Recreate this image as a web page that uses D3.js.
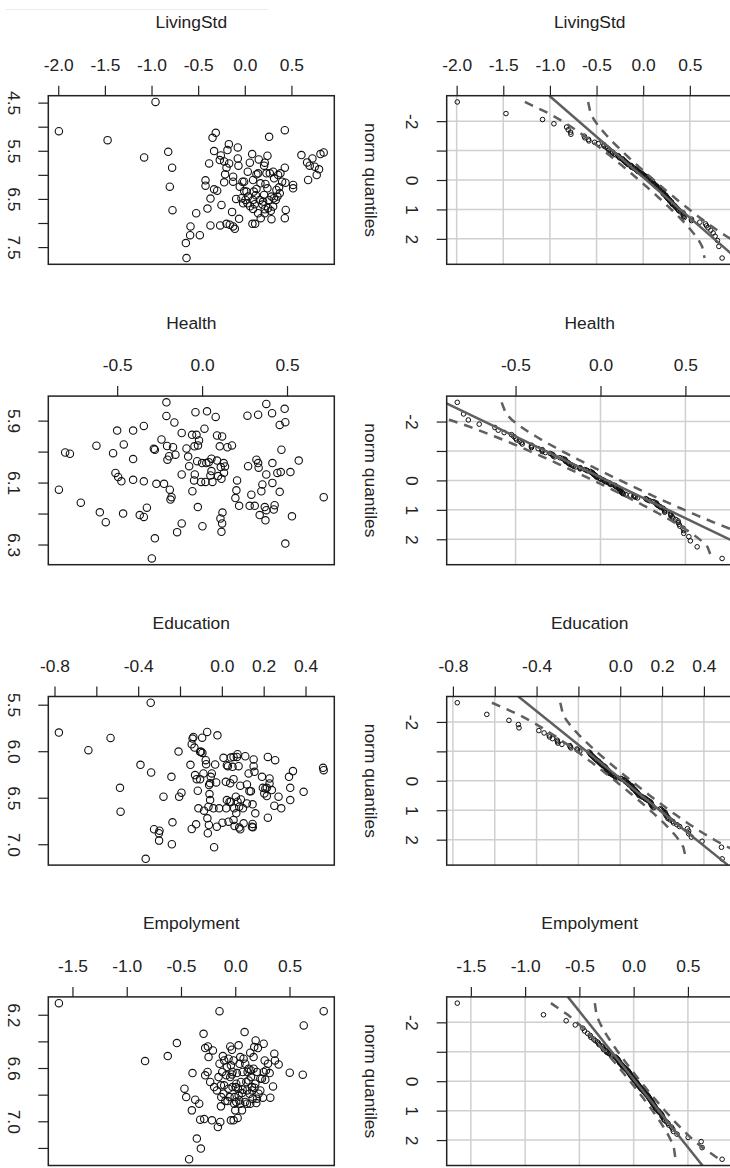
<!DOCTYPE html>
<html>
<head>
<meta charset="utf-8">
<script src="https://cdn.jsdelivr.net/npm/d3@7"></script>
<style>
  body { margin: 0; background: #fff; }
  svg text { font-family: "Liberation Sans", Arial, Helvetica, sans-serif; }
</style>
</head>
<body>
<script>
// variable names (titles), as written in the original
const variables = ["LivingStd", "Health", "Education", "Empolyment"];

// LivingStd : x = residual, y = score
const livingX = [
  -1.993,-0.957,-1.471,-1.079,-0.821,-0.779,-0.804,-0.775,-0.625,-0.632,
  -0.586,-0.582,-0.482,-0.521,-0.400,-0.368,-0.368,-0.421,-0.421,-0.382,
  -0.346,-0.311,-0.329,-0.329,-0.296,-0.257,-0.268,-0.221,-0.221,-0.250,
  -0.264,-0.196,-0.171,-0.186,-0.196,-0.168,-0.211,-0.125,-0.136,-0.161,
  -0.125,-0.107,-0.075,-0.075,-0.068,-0.061,-0.093,-0.025,-0.007,-0.007,
  -0.036,0.007,0.029,-0.018,0.054,0.079,0.032,0.089,0.096,0.118,
  0.107,0.089,0.082,0.111,0.150,0.143,0.168,0.161,0.171,0.207,
  0.214,0.221,0.207,0.196,0.214,0.214,0.243,0.261,0.268,0.243,
  0.257,0.250,0.286,0.304,0.314,0.286,0.304,0.339,0.350,0.382,
  0.368,0.375,0.429,0.429,0.436,0.439,0.429,0.400,0.518,0.518,
  0.607,0.668,0.679,0.696,0.725,0.750,0.771,0.796,0.811,0.846,
  0.125,0.036,0.279,0.311,0.189,0.057,0.125,-0.054,0.018,0.232,
  0.332,0.143,-0.125,0.357,0.089
];
const livingY = [
  5.093,4.486,5.279,5.638,5.521,5.852,6.245,6.734,7.728,7.417,
  7.252,7.072,7.252,6.797,6.700,6.493,7.050,6.114,6.224,5.762,
  5.231,5.128,5.507,6.300,6.328,5.597,5.693,5.721,6.155,6.624,
  7.050,7.017,5.362,5.486,5.852,5.762,5.990,6.038,6.769,7.036,
  7.072,7.120,5.431,5.659,5.810,6.914,6.500,6.141,6.141,6.334,
  6.486,6.521,6.590,6.590,5.748,5.569,5.934,6.107,6.348,6.424,
  6.610,6.707,7.017,7.017,5.679,5.969,6.176,6.521,6.900,5.810,
  5.748,6.190,6.417,6.555,6.714,6.797,5.603,5.210,5.969,6.279,
  6.521,6.693,6.921,5.934,6.072,6.452,6.659,6.314,6.452,5.969,
  6.259,6.383,5.072,5.852,6.162,6.728,6.900,6.141,6.210,6.279,
  5.590,5.741,6.107,5.810,5.659,5.831,6.003,5.886,5.569,5.534,
  6.293,6.452,6.748,6.486,6.617,6.652,5.990,6.245,6.348,5.969,
  6.521,6.797,6.141,6.003,6.521
];

const healthX = [
  -0.843,-0.806,-0.778,-0.714,-0.622,-0.602,-0.567,-0.524,-0.510,-0.500,
  -0.494,-0.475,-0.465,-0.461,-0.406,-0.406,-0.406,-0.367,-0.343,-0.343,
  -0.343,-0.325,-0.296,-0.278,-0.284,-0.278,-0.269,-0.239,-0.224,-0.210,
  -0.210,-0.206,-0.204,-0.194,-0.190,-0.186,-0.180,-0.171,-0.163,-0.157,
  -0.147,-0.120,-0.120,-0.120,-0.092,-0.082,-0.076,-0.059,-0.057,-0.045,
  -0.043,-0.047,-0.039,-0.033,-0.025,-0.024,-0.018,-0.029,-0.006,0.002,
  0.000,0.014,0.020,0.025,0.029,0.039,0.055,0.061,0.055,0.049,
  0.080,0.088,0.088,0.094,0.104,0.110,0.114,0.118,0.118,0.114,
  0.120,0.127,0.135,0.129,0.108,0.149,0.176,0.196,0.202,0.206,
  0.218,0.267,0.271,0.280,0.290,0.310,0.320,0.330,0.330,0.333,
  0.339,0.349,0.355,0.369,0.373,0.378,0.378,0.378,0.412,0.414,
  0.414,0.422,0.427,0.443,0.457,0.467,0.463,0.457,0.486,0.490,
  0.490,0.520,0.529,0.569,0.716
];
const healthY = [
  6.123,6.003,6.007,6.165,5.981,6.196,6.228,6.005,6.069,5.932,
  6.082,6.096,6.200,5.977,5.932,6.024,6.091,6.205,6.211,5.917,
  6.096,6.181,6.345,6.280,5.991,5.994,6.104,5.961,6.104,5.841,
  5.885,5.982,6.026,6.015,6.123,6.155,6.147,5.986,5.906,6.010,
  6.260,6.232,6.074,5.940,5.990,6.016,6.047,5.946,6.128,5.983,
  6.074,6.093,5.873,5.946,6.179,5.980,5.964,6.031,6.098,6.241,
  6.037,5.926,6.098,6.037,5.870,6.034,6.023,6.098,6.063,6.077,
  5.888,5.948,6.029,6.079,5.983,6.050,6.088,5.951,6.232,6.259,
  6.197,6.037,6.048,6.068,6.216,5.986,5.980,6.150,6.125,6.093,
  6.175,5.884,6.047,6.175,6.139,6.175,6.026,5.881,6.037,6.052,
  6.205,6.128,6.106,6.179,6.222,5.846,6.189,6.074,5.876,6.037,
  6.101,6.187,6.173,6.069,6.130,5.994,6.066,5.914,5.862,5.905,
  6.297,6.066,6.209,6.029,6.147
];

const educationX = [
  -0.779,-0.638,-0.532,-0.487,-0.484,-0.389,-0.364,-0.340,-0.338,-0.324,
  -0.301,-0.298,-0.300,-0.279,-0.241,-0.236,-0.239,-0.207,-0.204,-0.193,
  -0.150,-0.144,-0.144,-0.140,-0.131,-0.128,-0.123,-0.120,-0.115,-0.112,
  -0.104,-0.099,-0.094,-0.093,-0.085,-0.077,-0.075,-0.070,-0.069,-0.067,
  -0.062,-0.061,-0.059,-0.056,-0.056,-0.053,-0.048,-0.040,-0.037,-0.032,
  -0.027,-0.021,-0.013,0.003,0.008,0.019,0.021,0.024,0.029,0.032,
  0.037,0.040,0.043,0.043,0.051,0.056,0.059,0.061,0.067,0.069,
  0.072,0.075,0.075,0.080,0.083,0.088,0.083,0.091,0.101,0.104,
  0.112,0.120,0.128,0.132,0.139,0.147,0.147,0.148,0.152,0.152,
  0.156,0.160,0.192,0.196,0.203,0.208,0.215,0.220,0.220,0.228,
  0.228,0.239,0.251,0.255,0.271,0.284,0.321,0.327,0.327,0.340,
  0.391,0.484,0.487,-0.136,-0.104,-0.024,0.056,0.088,0.144,0.024,
  -0.088,0.120,0.215,0.056,-0.064
];
const educationY = [
  5.800,5.989,5.857,6.393,6.650,6.146,7.157,5.479,6.229,6.839,
  6.882,6.854,6.961,6.489,6.275,6.764,7.000,6.004,6.489,6.446,
  6.146,5.925,6.836,5.864,5.961,6.257,6.786,6.300,6.425,6.614,
  6.300,6.007,5.854,6.018,6.639,6.096,6.139,5.793,6.721,6.882,
  6.793,6.364,6.461,6.525,6.343,6.275,6.239,6.614,7.032,6.143,
  6.336,5.829,6.614,6.768,6.071,6.329,6.614,6.150,6.161,6.757,
  6.543,6.343,6.543,6.068,6.168,6.300,6.614,6.804,6.489,6.668,
  6.061,6.032,6.543,6.161,6.821,6.839,6.596,6.518,6.614,6.775,
  6.054,6.357,6.239,6.429,6.429,6.571,6.782,6.818,6.089,6.161,
  6.221,6.668,6.275,6.393,6.454,6.400,6.393,6.714,6.061,6.293,
  6.346,6.418,6.586,6.096,6.489,6.614,6.275,6.393,6.525,6.214,
  6.436,6.179,6.204,5.846,6.007,6.811,6.739,6.371,6.811,6.525,
  6.239,6.561,6.482,6.061,6.596
];

const employX = [
  -1.625,-0.831,-0.622,-0.538,-0.468,-0.452,-0.425,-0.394,-0.400,-0.369,
  -0.354,-0.332,-0.323,-0.317,-0.292,-0.286,-0.277,-0.255,-0.252,-0.246,
  -0.231,-0.215,-0.206,-0.194,-0.160,-0.145,-0.145,-0.138,-0.132,-0.132,
  -0.120,-0.114,-0.108,-0.102,-0.092,-0.083,-0.077,-0.071,-0.052,-0.046,
  -0.040,-0.031,-0.031,-0.025,-0.015,-0.015,-0.006,0.006,0.009,0.015,
  0.022,0.031,0.025,0.040,0.046,0.052,0.062,0.068,0.086,0.092,
  0.102,0.108,0.114,0.123,0.132,0.138,0.145,0.154,0.160,0.169,
  0.175,0.185,0.188,0.194,0.200,0.209,0.215,0.231,0.246,0.255,
  0.262,0.271,0.277,0.283,0.302,0.317,0.323,0.348,0.360,0.366,
  0.400,0.502,0.622,0.631,0.815,
  0.123,0.068,-0.046,-0.062,0.000,0.037,0.169,0.231,-0.169,-0.102,
  -0.025,0.031,0.077,0.145,0.200,0.108,-0.040,0.009,0.157,-0.129,
  0.062,0.138,-0.062,0.262,-0.277,-0.009,0.178,0.092,-0.154,0.046
];
const employY = [
  6.113,6.548,6.510,6.413,6.755,6.818,7.285,6.638,6.918,6.838,
  7.130,6.868,6.988,7.205,6.343,6.983,6.655,6.630,6.438,6.518,
  6.705,6.993,6.468,6.743,7.043,6.173,6.568,7.005,6.888,6.730,
  6.630,6.510,6.793,6.543,6.848,6.655,6.593,6.848,6.818,6.438,
  6.993,6.463,6.648,6.743,6.993,6.543,6.818,6.743,6.855,6.638,
  6.975,6.430,6.755,6.568,6.868,6.705,6.788,6.630,6.330,6.568,
  6.705,6.868,6.630,6.605,6.793,6.485,6.668,6.743,6.830,6.605,
  6.443,6.718,6.393,6.863,6.630,6.450,6.793,6.768,6.680,6.823,
  6.418,6.543,6.688,6.618,6.568,6.638,6.823,6.738,6.493,6.543,
  6.573,6.635,6.650,6.280,6.173,
  6.693,6.763,6.668,6.755,6.918,6.843,6.518,6.680,6.768,6.730,
  6.630,6.805,6.530,6.618,6.830,6.768,6.580,6.718,6.768,6.818,
  6.918,6.868,6.530,6.630,6.450,6.868,6.748,6.855,6.668,6.518
];

// tick values and labels ("" = tick without label, as R drops them)
const livingXTicks = [-2, -1.5, -1, -0.5, 0, 0.5];
const livingXLabels = ["-2.0", "-1.5", "-1.0", "-0.5", "0.0", "0.5"];
const livingYTicks = [4.5, 5, 5.5, 6, 6.5, 7, 7.5];
const livingYLabels = ["4.5", "", "5.5", "", "6.5", "", "7.5"];
const healthXTicks = [-0.5, 0, 0.5];
const healthXLabels = ["-0.5", "0.0", "0.5"];
const healthYTicks = [5.9, 6.0, 6.1, 6.2, 6.3];
const healthYLabels = ["5.9", "", "6.1", "", "6.3"];
const educationXTicks = [-0.8, -0.6, -0.4, -0.2, 0, 0.2, 0.4];
const educationXLabels = ["-0.8", "", "-0.4", "", "0.0", "0.2", "0.4"];
const educationYTicks = [5.5, 6.0, 6.5, 7.0];
const educationYLabels = ["5.5", "6.0", "6.5", "7.0"];
const employXTicks = [-1.5, -1, -0.5, 0, 0.5];
const employXLabels = ["-1.5", "-1.0", "-0.5", "0.0", "0.5"];
const employYTicks = [6.2, 6.4, 6.6, 6.8, 7.0, 7.2];
const employYLabels = ["6.2", "", "6.6", "", "7.0", ""];
const qqTicks = [-2, -1, 0, 1, 2];
const qqLabels = ["-2", "", "0", "1", "2"];
const qqAxisTitle = "norm quantiles";

// normal quantile (Acklam) and density, for the QQ plots
function qnorm(p) {
  const a = [-39.69683028665376, 220.9460984245205, -275.9285104469687, 138.3577518672690, -30.66479806614716, 2.506628277459239];
  const b = [-54.47609879822406, 161.5858368580409, -155.6989798598866, 66.80131188771972, -13.28068155288572];
  const c = [-0.007784894002430293, -0.3223964580411365, -2.400758277161838, -2.549732539343734, 4.374664141464968, 2.938163982698783];
  const d = [0.007784695709041462, 0.3224671290700398, 2.445134137142996, 3.754408661907416];
  const pl = 0.02425;
  if (p < pl) {
    const q = Math.sqrt(-2 * Math.log(p));
    return (((((c[0]*q+c[1])*q+c[2])*q+c[3])*q+c[4])*q+c[5]) / ((((d[0]*q+d[1])*q+d[2])*q+d[3])*q+1);
  }
  if (p > 1 - pl) {
    const q = Math.sqrt(-2 * Math.log(1 - p));
    return -(((((c[0]*q+c[1])*q+c[2])*q+c[3])*q+c[4])*q+c[5]) / ((((d[0]*q+d[1])*q+d[2])*q+d[3])*q+1);
  }
  const q = p - 0.5, r = q * q;
  return (((((a[0]*r+a[1])*r+a[2])*r+a[3])*r+a[4])*r+a[5])*q / (((((b[0]*r+b[1])*r+b[2])*r+b[3])*r+b[4])*r+1);
}
const dnorm = z => Math.exp(-z * z / 2) / Math.sqrt(2 * Math.PI);

// R style axis range: data range + 4%
function padExtent(v) {
  const [lo, hi] = d3.extent(v);
  const p = (hi - lo) * 0.04;
  return [lo - p, hi + p];
}

const WIDTH = 730, HEIGHT = 1168;
const boxW = 286, boxH = 168.6;
const colLeft = [48.3, 446.7];
const rowTop = 95.7, rowStep = 300.4;
const INK = "#222";
const FS = 17.4;

const svg = d3.select("body").append("svg")
  .attr("width", WIDTH).attr("height", HEIGHT)
  .style("font-size", FS + "px");

// faint line left over at the top of the original screenshot
svg.append("line").attr("x1", 6).attr("x2", 268).attr("y1", 9.5).attr("y2", 9.5)
  .attr("stroke", "#ebebeb").attr("stroke-width", 1);

const panels = [
  { xs: livingX, ys: livingY, xt: livingXTicks, xl: livingXLabels, yt: livingYTicks, yl: livingYLabels },
  { xs: healthX, ys: healthY, xt: healthXTicks, xl: healthXLabels, yt: healthYTicks, yl: healthYLabels },
  { xs: educationX, ys: educationY, xt: educationXTicks, xl: educationXLabels, yt: educationYTicks, yl: educationYLabels },
  { xs: employX, ys: employY, xt: employXTicks, xl: employXLabels, yt: employYTicks, yl: employYLabels }
];

function topAxis(g, x, ticks, labels) {
  g.append("g")
    .attr("color", INK)
    .call(d3.axisTop(x).tickValues(ticks).tickFormat(d => labels[ticks.indexOf(d)])
      .tickSize(10).tickPadding(15).tickSizeOuter(0))
    .call(a => a.select(".domain").remove())
    .call(a => a.selectAll("line").attr("stroke-width", 1.2))
    .call(a => a.selectAll("text").attr("font-size", FS).attr("font-family", null).attr("fill", INK));
}

function leftAxis(g, y, ticks, labels) {
  g.append("g")
    .attr("color", INK)
    .call(d3.axisLeft(y).tickValues(ticks).tickFormat(d => labels[ticks.indexOf(d)])
      .tickSize(10).tickSizeOuter(0))
    .call(a => a.select(".domain").remove())
    .call(a => a.selectAll("line").attr("stroke-width", 1.2))
    .call(a => a.selectAll("text")
      .attr("x", 0).attr("dy", "0.36em")
      .attr("text-anchor", "middle")
      .attr("transform", "translate(-34,0) rotate(90)")
      .attr("font-size", FS).attr("font-family", null).attr("fill", INK));
}

function title(g, txt) {
  g.append("text")
    .attr("x", boxW / 2).attr("y", -67.5)
    .attr("text-anchor", "middle")
    .attr("fill", INK)
    .text(txt);
}

panels.forEach((p, r) => {
  const top = rowTop + r * rowStep;
  const x = d3.scaleLinear().domain(padExtent(p.xs)).range([0, boxW]);

  // ---- left: scatter ----
  const y = d3.scaleLinear().domain(padExtent(p.ys)).range([0, boxH]);
  const g1 = svg.append("g").attr("transform", `translate(${colLeft[0]},${top})`);

  g1.selectAll("circle")
    .data(p.xs.map((d, i) => [d, p.ys[i]]))
    .enter()
    .append("circle")
    .attr("cx", d => x(d[0]))
    .attr("cy", d => y(d[1]))
    .attr("r", 3.7)
    .attr("fill", "none")
    .attr("stroke", "#111")
    .attr("stroke-width", 1.1);

  g1.append("rect").attr("width", boxW).attr("height", boxH)
    .attr("fill", "none").attr("stroke", INK).attr("stroke-width", 1.5);
  topAxis(g1, x, p.xt, p.xl);
  leftAxis(g1, y, p.yt, p.yl);
  title(g1, variables[r]);

  // ---- right: normal QQ plot of the same x ----
  const n = p.xs.length;
  const sorted = p.xs.slice().sort(d3.ascending);
  const z = sorted.map((d, i) => qnorm((i + 0.5) / n));
  const q1 = d3.quantile(sorted, 0.25), q3 = d3.quantile(sorted, 0.75);
  const slope = (q3 - q1) / (qnorm(0.75) - qnorm(0.25));
  const icpt = q1 - slope * qnorm(0.25);
  const crit = qnorm(0.975);
  const env = z.map((zz, i) => {
    const P = (i + 0.5) / n;
    const se = slope / dnorm(zz) * Math.sqrt(P * (1 - P) / n);
    const fit = icpt + slope * zz;
    return { z: zz, lo: fit - crit * se, hi: fit + crit * se };
  });

  const zy = d3.scaleLinear().domain(padExtent(z)).range([0, boxH]);
  const g2 = svg.append("g").attr("transform", `translate(${colLeft[1]},${top})`);

  g2.append("clipPath").attr("id", "clip" + r)
    .append("rect").attr("width", boxW).attr("height", boxH);
  const inner = g2.append("g").attr("clip-path", `url(#clip${r})`);

  // grid
  inner.selectAll(".gx").data(p.xt).enter().append("line")
    .attr("x1", d => x(d)).attr("x2", d => x(d))
    .attr("y1", 0).attr("y2", boxH)
    .attr("stroke", "#cfcfcf").attr("stroke-width", 1.5);
  inner.selectAll(".gy").data(qqTicks).enter().append("line")
    .attr("x1", 0).attr("x2", boxW)
    .attr("y1", d => zy(d)).attr("y2", d => zy(d))
    .attr("stroke", "#cfcfcf").attr("stroke-width", 1.5);

  // points
  inner.selectAll("circle")
    .data(sorted.map((d, i) => [d, z[i]]))
    .enter()
    .append("circle")
    .attr("cx", d => x(d[0]))
    .attr("cy", d => zy(d[1]))
    .attr("r", 2.3)
    .attr("fill", "none")
    .attr("stroke", "#111")
    .attr("stroke-width", 1);

  // reference line through the quartiles
  const zd = zy.domain();
  inner.append("line")
    .attr("x1", x(icpt + slope * zd[0])).attr("y1", zy(zd[0]))
    .attr("x2", x(icpt + slope * zd[1])).attr("y2", zy(zd[1]))
    .attr("stroke", "#5f5f5f").attr("stroke-width", 2.5);

  // 95% envelope
  ["lo", "hi"].forEach(k => {
    inner.append("path")
      .datum(env)
      .attr("d", d3.line().x(d => x(d[k])).y(d => zy(d.z)))
      .attr("fill", "none")
      .attr("stroke", "#5f5f5f")
      .attr("stroke-width", 2.5)
      .attr("stroke-dasharray", "9,7");
  });

  g2.append("rect").attr("width", boxW).attr("height", boxH)
    .attr("fill", "none").attr("stroke", INK).attr("stroke-width", 1.5);
  topAxis(g2, x, p.xt, p.xl);
  leftAxis(g2, zy, qqTicks, qqLabels);
  title(g2, variables[r]);

  g2.append("text")
    .attr("transform", `translate(-76,${boxH / 2}) rotate(90)`)
    .attr("dy", "0.3em")
    .attr("text-anchor", "middle")
    .attr("fill", INK)
    .text(qqAxisTitle);
});
</script>
</body>
</html>
